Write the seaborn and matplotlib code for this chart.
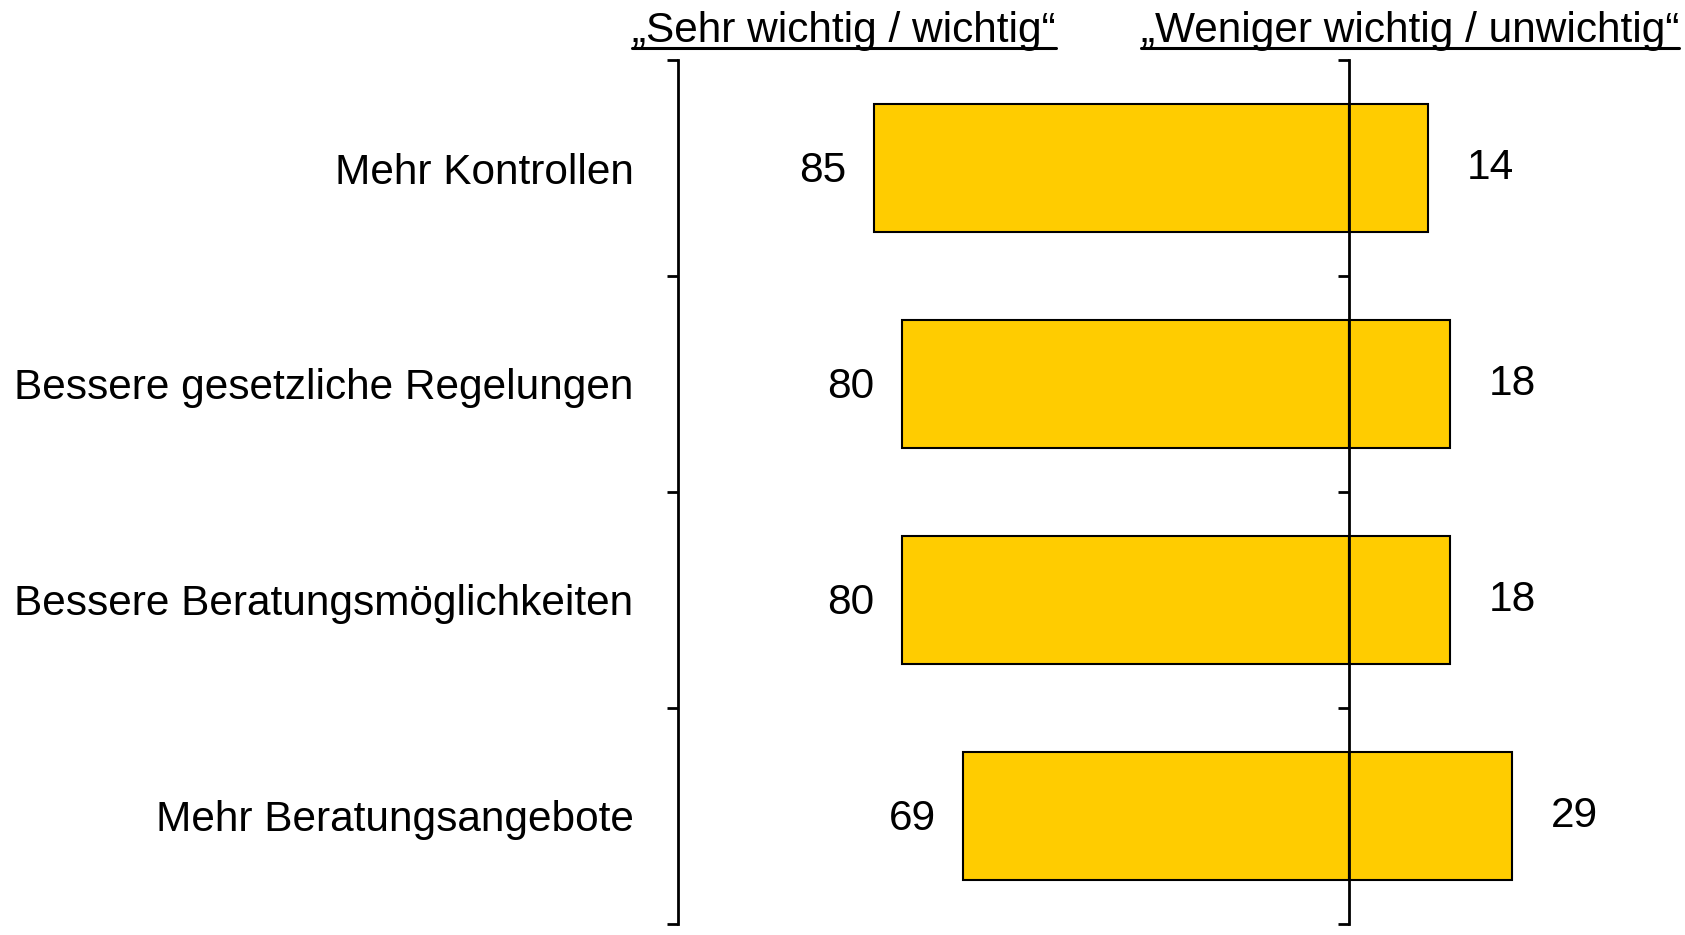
import matplotlib
matplotlib.use("Agg")
import matplotlib.pyplot as plt
import seaborn as sns
import pandas as pd
from matplotlib.lines import Line2D
from matplotlib.ticker import FixedLocator

categories = ["Mehr Kontrollen", "Bessere gesetzliche Regelungen",
              "Bessere Beratungsmöglichkeiten", "Mehr Beratungsangebote"]
important = [85, 80, 80, 69]
unimportant = [14, 18, 18, 29]
header_left = "„Sehr wichtig / wichtig“"
header_right = "„Weniger wichtig / unwichtig“"

sns.set_style("white")
plt.rcParams["font.family"] = ["Liberation Sans", "DejaVu Sans"]
plt.rcParams["text.color"] = "black"
plt.rcParams["ytick.color"] = "black"
plt.rcParams["ytick.labelcolor"] = "black"

FS = 30.5
W, H, DPI = 1685, 935, 100
fig = plt.figure(figsize=(W / DPI, H / DPI), dpi=DPI)
ax = fig.add_axes([678 / W, 1 - 924 / H, 1 - 678 / W, (924 - 60) / H])

df = pd.DataFrame({"cat": categories,
                   "neg": [-v for v in important],
                   "pos": unimportant})
bar_color = "#FFCC00"
sns.barplot(data=df, x="neg", y="cat", orient="h", color=bar_color,
            edgecolor="black", linewidth=1.5, width=0.595, saturation=1, ax=ax)
sns.barplot(data=df, x="pos", y="cat", orient="h", color=bar_color,
            edgecolor="black", linewidth=1.5, width=0.595, saturation=1, ax=ax)

ax.set_xlim(-120, 60)
ax.set_ylim(len(categories) - 0.5, -0.5)
ax.set_xlabel("")
ax.set_ylabel("")
ax.set_xticks([])
for s in ["top", "right", "bottom"]:
    ax.spines[s].set_visible(False)
ax.spines["left"].set_linewidth(2)
ax.spines["left"].set_color("black")

ax.set_yticks(range(len(categories)))
ax.set_yticklabels(categories, fontsize=FS, color="black")
ax.yaxis.set_minor_locator(FixedLocator([i - 0.5 for i in range(len(categories) + 1)]))
ax.tick_params(axis="y", which="major", length=0, pad=32)
ax.tick_params(axis="y", which="minor", length=8, width=2, direction="out",
               color="black", left=True)

# Center line with ticks pointing left
ax2 = ax.twinx()
ax2.set_ylim(ax.get_ylim())
for s in ["top", "right", "bottom"]:
    ax2.spines[s].set_visible(False)
ax2.spines["left"].set_visible(True)
ax2.spines["left"].set_position(("data", 0))
ax2.spines["left"].set_linewidth(2)
ax2.spines["left"].set_color("black")
ax2.spines["left"].set_zorder(5)
ax2.yaxis.set_ticks_position("left")
ax2.set_yticks([i - 0.5 for i in range(len(categories) + 1)])
ax2.set_yticklabels([])
ax2.tick_params(axis="y", length=8, width=2, direction="out", color="black")

# Value labels
for i, (a, b) in enumerate(zip(important, unimportant)):
    ax.annotate(f"{a}", xy=(-a, i), xytext=(-20, -2), textcoords="offset points",
                ha="right", va="center", fontsize=FS, color="black")
    ax.annotate(f"{b}", xy=(b, i), xytext=(28, 0), textcoords="offset points",
                ha="left", va="center", fontsize=FS, color="black")

# Headers with underline
t1 = fig.text(844 / W, 1 - 31 / H, header_left, ha="center", va="center",
              fontsize=FS, color="black")
t2 = fig.text(1141 / W, 1 - 31 / H, header_right, ha="left", va="center",
              fontsize=FS, color="black")
fig.canvas.draw()
r = fig.canvas.get_renderer()
for t in (t1, t2):
    bb = t.get_window_extent(renderer=r)
    yline = 1 - 48 / H
    fig.add_artist(Line2D([bb.x0 / W, min(bb.x1, W) / W], [yline, yline],
                          color="black", linewidth=2.2,
                          transform=fig.transFigure))

fig.savefig("out.png", dpi=DPI, facecolor="white")
